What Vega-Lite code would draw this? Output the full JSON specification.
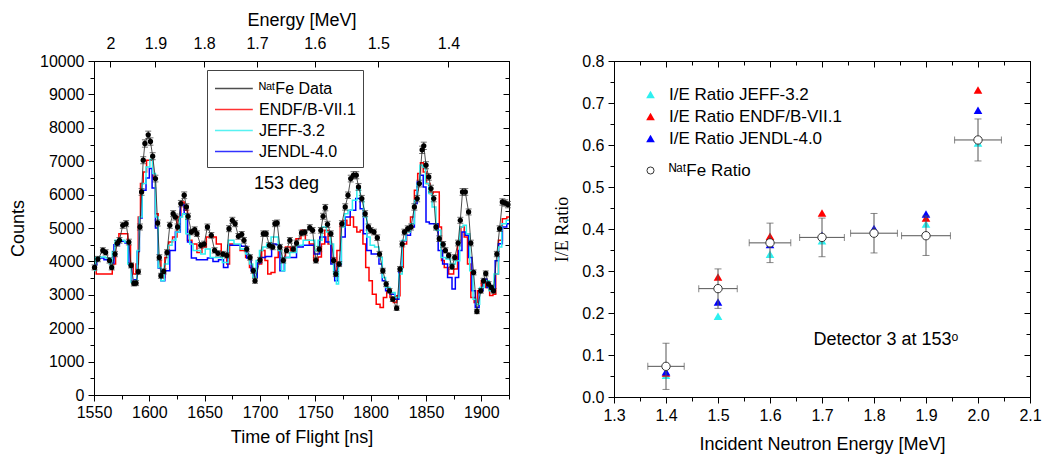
{
  "$schema": "https://vega.github.io/schema/vega-lite/v6.json",
  "background": "white",
  "padding": {"left": 9, "top": 10, "right": 5, "bottom": 5},
  "config": {
    "font": "Liberation Sans",
    "view": {"stroke": "black", "strokeWidth": 1},
    "axis": {"labelFont": "Liberation Sans", "titleFont": "Liberation Sans", "labelFontSize": 16, "titleFontSize": 18, "titleFontWeight": "normal", "labelColor": "black", "titleColor": "black", "domainColor": "black", "tickColor": "black", "grid": false, "labelFlush": false},
    "legend": {"labelFont": "Liberation Sans", "labelColor": "black", "labelLimit": 400}
  },
  "resolve": {"scale": {"color": "independent", "shape": "independent"}, "legend": {"color": "independent", "shape": "independent"}},
  "datasets": {
    "fe": [
      {"t":1550.5,"c":3820,"e":75},{"t":1553.5,"c":4070,"e":80},{"t":1558,"c":4330,"e":80},{"t":1560.5,"c":4270,"e":80},{"t":1564,"c":4030,"e":80},{"t":1566,"c":3820,"e":75},{"t":1569,"c":4220,"e":80},{"t":1571,"c":4540,"e":85},{"t":1573,"c":4630,"e":85},{"t":1576,"c":5080,"e":90},{"t":1579,"c":5130,"e":90},{"t":1581.5,"c":4580,"e":85},{"t":1583.5,"c":3880,"e":75},{"t":1586,"c":3340,"e":75},{"t":1588,"c":3350,"e":75},{"t":1590,"c":3690,"e":75},{"t":1591.5,"c":5030,"e":90},{"t":1593,"c":6080,"e":100},{"t":1594.5,"c":7030,"e":105},{"t":1596,"c":7530,"e":110},{"t":1599,"c":7790,"e":110},{"t":1601,"c":7590,"e":110},{"t":1603,"c":7150,"e":105},{"t":1605.5,"c":6480,"e":100},{"t":1607.5,"c":5150,"e":90},{"t":1609,"c":4120,"e":80},{"t":1610.5,"c":3570,"e":75},{"t":1613,"c":3700,"e":75},{"t":1616,"c":4270,"e":80},{"t":1618.5,"c":5080,"e":90},{"t":1621.5,"c":5430,"e":90},{"t":1623.5,"c":5330,"e":90},{"t":1625.5,"c":5030,"e":90},{"t":1628.5,"c":5730,"e":95},{"t":1631.5,"c":5980,"e":100},{"t":1633.5,"c":5630,"e":95},{"t":1635,"c":5350,"e":90},{"t":1638,"c":4880,"e":85},{"t":1641,"c":4950,"e":85},{"t":1643,"c":4830,"e":85},{"t":1646.5,"c":4480,"e":85},{"t":1649.5,"c":4520,"e":85},{"t":1652.5,"c":5030,"e":90},{"t":1656,"c":4780,"e":85},{"t":1659,"c":4330,"e":80},{"t":1662,"c":4240,"e":80},{"t":1666.5,"c":4220,"e":80},{"t":1670,"c":4180,"e":80},{"t":1672,"c":4980,"e":90},{"t":1675,"c":5230,"e":90},{"t":1677.5,"c":5130,"e":90},{"t":1680.5,"c":4750,"e":85},{"t":1683.5,"c":4810,"e":85},{"t":1685.5,"c":4630,"e":85},{"t":1688,"c":4370,"e":80},{"t":1691,"c":4120,"e":80},{"t":1694,"c":3720,"e":75},{"t":1695.5,"c":3420,"e":75},{"t":1700,"c":4040,"e":80},{"t":1703,"c":4830,"e":85},{"t":1705.5,"c":4830,"e":85},{"t":1708.5,"c":4480,"e":85},{"t":1711.5,"c":4430,"e":80},{"t":1713.5,"c":5130,"e":90},{"t":1715.5,"c":5150,"e":90},{"t":1718,"c":4430,"e":80},{"t":1721,"c":4030,"e":80},{"t":1724,"c":4330,"e":80},{"t":1727,"c":4630,"e":85},{"t":1730,"c":4370,"e":80},{"t":1733,"c":4550,"e":85},{"t":1737.5,"c":4850,"e":85},{"t":1740.5,"c":4870,"e":85},{"t":1745,"c":5010,"e":90},{"t":1747.5,"c":4930,"e":85},{"t":1750.5,"c":4030,"e":80},{"t":1753.5,"c":4370,"e":80},{"t":1755,"c":4930,"e":85},{"t":1757,"c":5350,"e":90},{"t":1759,"c":5610,"e":95},{"t":1761,"c":5110,"e":90},{"t":1764,"c":4830,"e":85},{"t":1766.5,"c":4030,"e":80},{"t":1768.5,"c":3620,"e":75},{"t":1771.5,"c":3920,"e":75},{"t":1774,"c":5130,"e":90},{"t":1777,"c":5630,"e":95},{"t":1779.5,"c":5980,"e":100},{"t":1782,"c":6480,"e":100},{"t":1784.5,"c":6580,"e":105},{"t":1787,"c":6580,"e":105},{"t":1789,"c":6230,"e":100},{"t":1792,"c":5880,"e":95},{"t":1795,"c":5430,"e":90},{"t":1798,"c":5030,"e":90},{"t":1800,"c":4930,"e":85},{"t":1803,"c":4880,"e":85},{"t":1806,"c":4710,"e":85},{"t":1808,"c":4220,"e":80},{"t":1811,"c":3720,"e":75},{"t":1814,"c":3320,"e":75},{"t":1817,"c":3120,"e":70},{"t":1820,"c":2870,"e":70},{"t":1823.5,"c":2600,"e":65},{"t":1826.5,"c":3770,"e":75},{"t":1828.5,"c":4520,"e":85},{"t":1830.5,"c":4880,"e":85},{"t":1833.5,"c":4980,"e":85},{"t":1836.5,"c":5030,"e":90},{"t":1839.5,"c":5630,"e":95},{"t":1842,"c":5880,"e":95},{"t":1844,"c":6330,"e":100},{"t":1846.5,"c":7340,"e":110},{"t":1848,"c":7460,"e":110},{"t":1850,"c":6880,"e":105},{"t":1852.5,"c":6530,"e":100},{"t":1854.5,"c":6180,"e":100},{"t":1857,"c":5880,"e":95},{"t":1859,"c":5030,"e":90},{"t":1862,"c":4680,"e":85},{"t":1865.5,"c":4510,"e":85},{"t":1867.5,"c":4330,"e":80},{"t":1870.5,"c":4180,"e":80},{"t":1873.5,"c":3840,"e":75},{"t":1876,"c":4120,"e":80},{"t":1879,"c":4550,"e":85},{"t":1881,"c":5230,"e":90},{"t":1883,"c":6080,"e":100},{"t":1885.5,"c":6080,"e":100},{"t":1888.5,"c":5480,"e":90},{"t":1890.5,"c":4550,"e":85},{"t":1893,"c":3670,"e":75},{"t":1896,"c":2500,"e":65},{"t":1899.5,"c":3120,"e":70},{"t":1902,"c":3420,"e":75},{"t":1904,"c":3640,"e":75},{"t":1906.5,"c":3320,"e":75},{"t":1909,"c":3220,"e":70},{"t":1911,"c":3120,"e":70},{"t":1914,"c":4220,"e":80},{"t":1916.5,"c":4980,"e":85},{"t":1919,"c":5780,"e":95},{"t":1921.5,"c":5750,"e":95},{"t":1924,"c":5700,"e":95}
    ],
    "jeff": [
      {"t":1550,"c":3730},{"t":1553,"c":4120},{"t":1558,"c":4130},{"t":1563,"c":4100},{"t":1565,"c":3920},{"t":1568,"c":4300},{"t":1570,"c":4630},{"t":1576,"c":4630},{"t":1579,"c":4580},{"t":1582,"c":3920},{"t":1585,"c":3370},{"t":1588,"c":3420},{"t":1590,"c":4330},{"t":1592,"c":5330},{"t":1595,"c":6330},{"t":1599,"c":6830},{"t":1602,"c":7050},{"t":1604,"c":6630},{"t":1607,"c":5330},{"t":1609,"c":3820},{"t":1612,"c":3420},{"t":1615,"c":3920},{"t":1619,"c":4480},{"t":1622,"c":4630},{"t":1626,"c":4880},{"t":1629,"c":5330},{"t":1631,"c":5430},{"t":1635,"c":4830},{"t":1638,"c":4520},{"t":1641,"c":4330},{"t":1645,"c":4330},{"t":1648,"c":4220},{"t":1653,"c":4370},{"t":1657,"c":4120},{"t":1663,"c":4120},{"t":1669,"c":3970},{"t":1674,"c":4630},{"t":1679,"c":4520},{"t":1685,"c":4370},{"t":1689,"c":4220},{"t":1692,"c":3920},{"t":1695,"c":3520},{"t":1698,"c":4030},{"t":1701,"c":4330},{"t":1704,"c":4430},{"t":1708,"c":4520},{"t":1712,"c":4730},{"t":1715,"c":4730},{"t":1718,"c":4330},{"t":1721,"c":3720},{"t":1724,"c":4120},{"t":1730,"c":4270},{"t":1736,"c":4480},{"t":1742,"c":4630},{"t":1748,"c":4630},{"t":1751,"c":4330},{"t":1754,"c":4630},{"t":1758,"c":5030},{"t":1762,"c":4880},{"t":1765,"c":4520},{"t":1768,"c":3620},{"t":1770,"c":3320},{"t":1772,"c":3920},{"t":1775,"c":5030},{"t":1778,"c":5430},{"t":1781,"c":5530},{"t":1786,"c":5830},{"t":1789,"c":6180},{"t":1792,"c":5830},{"t":1795,"c":5330},{"t":1798,"c":4730},{"t":1801,"c":4480},{"t":1806,"c":4430},{"t":1809,"c":4120},{"t":1812,"c":3520},{"t":1815,"c":3220},{"t":1820,"c":3070},{"t":1824,"c":2920},{"t":1827,"c":3620},{"t":1830,"c":4630},{"t":1834,"c":4880},{"t":1838,"c":5130},{"t":1841,"c":5830},{"t":1843,"c":6330},{"t":1846,"c":6880},{"t":1848,"c":6830},{"t":1851,"c":6330},{"t":1854,"c":6030},{"t":1857,"c":5630},{"t":1861,"c":4930},{"t":1866,"c":4120},{"t":1870,"c":4070},{"t":1874,"c":3920},{"t":1879,"c":4020},{"t":1882,"c":5030},{"t":1885,"c":5080},{"t":1888,"c":4830},{"t":1891,"c":3720},{"t":1894,"c":2870},{"t":1897,"c":2720},{"t":1900,"c":3220},{"t":1905,"c":3420},{"t":1909,"c":3120},{"t":1914,"c":3620},{"t":1917,"c":4430},{"t":1920,"c":5130},{"t":1925,"c":5230}
    ],
    "jendl": [
      {"t":1550,"c":3900},{"t":1555,"c":4100},{"t":1563,"c":4050},{"t":1566,"c":3950},{"t":1570,"c":4500},{"t":1576,"c":4600},{"t":1580,"c":4550},{"t":1583,"c":3900},{"t":1585,"c":3400},{"t":1588,"c":3450},{"t":1590,"c":4300},{"t":1592,"c":5300},{"t":1595,"c":6130},{"t":1599,"c":6500},{"t":1601,"c":6780},{"t":1604,"c":6200},{"t":1607,"c":5000},{"t":1609,"c":3800},{"t":1612,"c":3420},{"t":1616,"c":3720},{"t":1621,"c":4330},{"t":1626,"c":4880},{"t":1630,"c":5690},{"t":1633,"c":5430},{"t":1636,"c":4580},{"t":1640,"c":4100},{"t":1645,"c":4050},{"t":1650,"c":4050},{"t":1655,"c":4100},{"t":1660,"c":4000},{"t":1665,"c":4050},{"t":1669,"c":3820},{"t":1673,"c":4480},{"t":1680,"c":4480},{"t":1686,"c":4450},{"t":1690,"c":4100},{"t":1694,"c":3720},{"t":1696,"c":3520},{"t":1699,"c":3950},{"t":1702,"c":4120},{"t":1708,"c":4150},{"t":1713,"c":4520},{"t":1716,"c":4500},{"t":1720,"c":3720},{"t":1724,"c":4120},{"t":1730,"c":4120},{"t":1736,"c":4430},{"t":1742,"c":4480},{"t":1747,"c":4480},{"t":1751,"c":4220},{"t":1757,"c":4730},{"t":1762,"c":4580},{"t":1766,"c":3920},{"t":1769,"c":3420},{"t":1772,"c":3900},{"t":1775,"c":4730},{"t":1779,"c":5330},{"t":1784,"c":5530},{"t":1789,"c":5880},{"t":1792,"c":5580},{"t":1795,"c":4830},{"t":1798,"c":4330},{"t":1803,"c":4220},{"t":1806,"c":4220},{"t":1809,"c":3920},{"t":1812,"c":3420},{"t":1815,"c":3120},{"t":1820,"c":3020},{"t":1824,"c":2870},{"t":1827,"c":3720},{"t":1830,"c":4620},{"t":1834,"c":4780},{"t":1838,"c":5030},{"t":1841,"c":5730},{"t":1843,"c":6380},{"t":1846,"c":6580},{"t":1849,"c":6230},{"t":1851,"c":5180},{"t":1855,"c":5130},{"t":1859,"c":5130},{"t":1863,"c":4330},{"t":1867,"c":3920},{"t":1872,"c":3520},{"t":1875,"c":3170},{"t":1878,"c":3520},{"t":1881,"c":4330},{"t":1884,"c":4880},{"t":1887,"c":4780},{"t":1890,"c":4120},{"t":1893,"c":3120},{"t":1896,"c":2620},{"t":1900,"c":3120},{"t":1903,"c":3470},{"t":1907,"c":3220},{"t":1911,"c":3120},{"t":1914,"c":4020},{"t":1917,"c":4530},{"t":1921,"c":5030},{"t":1925,"c":5130}
    ],
    "endf": [
      {"t":1550,"c":3870},{"t":1554,"c":3620},{"t":1558,"c":3620},{"t":1562,"c":3620},{"t":1565,"c":3620},{"t":1568,"c":3920},{"t":1571,"c":4520},{"t":1574,"c":4830},{"t":1579,"c":4830},{"t":1582,"c":4480},{"t":1584,"c":3920},{"t":1587,"c":3620},{"t":1589,"c":3920},{"t":1591,"c":5330},{"t":1593,"c":6330},{"t":1596,"c":6680},{"t":1599,"c":7030},{"t":1602,"c":7030},{"t":1604,"c":6530},{"t":1607,"c":5430},{"t":1609,"c":4030},{"t":1612,"c":3520},{"t":1616,"c":4120},{"t":1619,"c":4580},{"t":1623,"c":4730},{"t":1627,"c":5330},{"t":1630,"c":5780},{"t":1633,"c":5530},{"t":1636,"c":4630},{"t":1641,"c":4520},{"t":1645,"c":4270},{"t":1650,"c":4430},{"t":1653,"c":4730},{"t":1658,"c":4730},{"t":1663,"c":4520},{"t":1667,"c":4220},{"t":1669,"c":4220},{"t":1671,"c":3920},{"t":1674,"c":4520},{"t":1679,"c":4500},{"t":1685,"c":4330},{"t":1689,"c":4120},{"t":1692,"c":3820},{"t":1695,"c":3520},{"t":1700,"c":3920},{"t":1703,"c":4330},{"t":1706,"c":4030},{"t":1708,"c":3620},{"t":1712,"c":3670},{"t":1715,"c":4120},{"t":1718,"c":4330},{"t":1721,"c":4030},{"t":1725,"c":4430},{"t":1730,"c":4330},{"t":1735,"c":4680},{"t":1739,"c":4930},{"t":1743,"c":4630},{"t":1746,"c":4520},{"t":1751,"c":4030},{"t":1754,"c":4130},{"t":1757,"c":4520},{"t":1760,"c":4930},{"t":1763,"c":4520},{"t":1766,"c":4120},{"t":1768,"c":3720},{"t":1771,"c":4330},{"t":1774,"c":5130},{"t":1777,"c":5230},{"t":1780,"c":5080},{"t":1783,"c":5330},{"t":1786,"c":5030},{"t":1789,"c":4880},{"t":1792,"c":4930},{"t":1794,"c":4520},{"t":1797,"c":3820},{"t":1800,"c":3420},{"t":1803,"c":3020},{"t":1807,"c":2720},{"t":1810,"c":2620},{"t":1813,"c":2920},{"t":1816,"c":3120},{"t":1819,"c":2920},{"t":1822,"c":2770},{"t":1825,"c":2970},{"t":1828,"c":3820},{"t":1831,"c":4520},{"t":1834,"c":4880},{"t":1838,"c":5330},{"t":1841,"c":6130},{"t":1844,"c":6630},{"t":1846,"c":6950},{"t":1849,"c":6680},{"t":1852,"c":6330},{"t":1855,"c":6030},{"t":1858,"c":6080},{"t":1861,"c":6080},{"t":1863,"c":5030},{"t":1865,"c":4030},{"t":1868,"c":3820},{"t":1873,"c":3620},{"t":1877,"c":3770},{"t":1880,"c":4580},{"t":1883,"c":5030},{"t":1886,"c":4730},{"t":1889,"c":3920},{"t":1892,"c":2920},{"t":1895,"c":2770},{"t":1898,"c":3120},{"t":1902,"c":3420},{"t":1906,"c":3220},{"t":1909,"c":2980},{"t":1912,"c":3020},{"t":1914,"c":3620},{"t":1917,"c":4630},{"t":1921,"c":5280},{"t":1925,"c":5330}
    ],
    "ratio": [
      {"E":1.4,"r":0.073,"ex":0.035,"ey":0.055},
      {"E":1.5,"r":0.258,"ex":0.037,"ey":0.047},
      {"E":1.6,"r":0.367,"ex":0.04,"ey":0.047},
      {"E":1.7,"r":0.38,"ex":0.043,"ey":0.046},
      {"E":1.8,"r":0.39,"ex":0.045,"ey":0.047},
      {"E":1.9,"r":0.384,"ex":0.047,"ey":0.047},
      {"E":2.0,"r":0.612,"ex":0.045,"ey":0.05}
    ],
    "tri": [
      {"E":1.4,"v":0.052,"m":"I/E Ratio JEFF-3.2"},{"E":1.5,"v":0.192,"m":"I/E Ratio JEFF-3.2"},{"E":1.6,"v":0.34,"m":"I/E Ratio JEFF-3.2"},{"E":1.7,"v":0.372,"m":"I/E Ratio JEFF-3.2"},{"E":1.8,"v":0.395,"m":"I/E Ratio JEFF-3.2"},{"E":1.9,"v":0.412,"m":"I/E Ratio JEFF-3.2"},{"E":2.0,"v":0.605,"m":"I/E Ratio JEFF-3.2"},
      {"E":1.4,"v":0.057,"m":"I/E Ratio ENDF/B-VII.1"},{"E":1.5,"v":0.286,"m":"I/E Ratio ENDF/B-VII.1"},{"E":1.6,"v":0.383,"m":"I/E Ratio ENDF/B-VII.1"},{"E":1.7,"v":0.438,"m":"I/E Ratio ENDF/B-VII.1"},{"E":1.8,"v":0.398,"m":"I/E Ratio ENDF/B-VII.1"},{"E":1.9,"v":0.426,"m":"I/E Ratio ENDF/B-VII.1"},{"E":2.0,"v":0.731,"m":"I/E Ratio ENDF/B-VII.1"},
      {"E":1.4,"v":0.06,"m":"I/E Ratio JENDL-4.0"},{"E":1.5,"v":0.226,"m":"I/E Ratio JENDL-4.0"},{"E":1.6,"v":0.363,"m":"I/E Ratio JENDL-4.0"},{"E":1.7,"v":0.385,"m":"I/E Ratio JENDL-4.0"},{"E":1.8,"v":0.401,"m":"I/E Ratio JENDL-4.0"},{"E":1.9,"v":0.436,"m":"I/E Ratio JENDL-4.0"},{"E":2.0,"v":0.683,"m":"I/E Ratio JENDL-4.0"}
    ]
  },
  "bounds": "flush",
  "spacing": 105,
  "hconcat": [
    {
      "width": 415,
      "height": 334,
      "resolve": {"axis": {"x": "independent", "y": "independent"}},
      "layer": [
        {
          "data": {"name": "endf"},
          "mark": {"type": "line", "interpolate": "step", "strokeWidth": 1.5},
          "encoding": {
            "x": {"field": "t", "type": "quantitative", "scale": {"domain": [1550, 1925], "nice": false, "zero": false},
                  "axis": {"title": "Time of Flight [ns]", "values": [1550,1575,1600,1625,1650,1675,1700,1725,1750,1775,1800,1825,1850,1875,1900,1925], "labelExpr": "datum.value % 50 === 0 && datum.value < 1925 ? datum.label : ''", "format": "d", "tickSize": {"condition": {"test": "datum.value % 50 === 0", "value": 6}, "value": 4}, "labelPadding": 3, "titlePadding": 8}},
            "y": {"field": "c", "type": "quantitative", "scale": {"domain": [0, 10000], "nice": false},
                  "axis": {"title": "Counts", "values": [0,500,1000,1500,2000,2500,3000,3500,4000,4500,5000,5500,6000,6500,7000,7500,8000,8500,9000,9500,10000], "labelExpr": "datum.value % 1000 === 0 ? datum.label : ''", "format": "d", "tickSize": {"condition": {"test": "datum.value % 1000 === 0", "value": 6}, "value": 4}, "labelPadding": 4, "titlePadding": 12}},
            "color": {"datum": "ENDF/B-VII.1", "type": "nominal",
                      "scale": {"domain": ["ᴺᵃᵗFe Data", "ENDF/B-VII.1", "JEFF-3.2", "JENDL-4.0"], "range": ["#222222", "#FF0000", "#2EF0F0", "#0000FF"]},
                      "legend": {"title": null, "orient": "none", "legendX": 113, "legendY": 9, "symbolType": "M-1,0L2.6,0", "symbolSize": 441, "symbolStrokeWidth": 1.5, "labelFontSize": 16, "strokeColor": "#444444", "fillColor": "white", "padding": 7, "rowPadding": 1, "labelOffset": 22}}
          }
        },
        {
          "data": {"name": "jendl"},
          "mark": {"type": "line", "interpolate": "step", "strokeWidth": 1.5},
          "encoding": {
            "x": {"field": "t", "type": "quantitative", "axis": null},
            "y": {"field": "c", "type": "quantitative", "axis": null},
            "color": {"datum": "JENDL-4.0", "type": "nominal"}
          }
        },
        {
          "data": {"name": "jeff"},
          "mark": {"type": "line", "interpolate": "step", "strokeWidth": 1.5},
          "encoding": {
            "x": {"field": "t", "type": "quantitative", "axis": null},
            "y": {"field": "c", "type": "quantitative", "axis": null},
            "color": {"datum": "JEFF-3.2", "type": "nominal"}
          }
        },
        {
          "data": {"name": "fe"},
          "mark": {"type": "line", "strokeWidth": 1, "opacity": 0.8},
          "encoding": {
            "x": {"field": "t", "type": "quantitative", "axis": null},
            "y": {"field": "c", "type": "quantitative", "axis": null},
            "color": {"datum": "ᴺᵃᵗFe Data", "type": "nominal"}
          }
        },
        {
          "data": {"name": "fe"},
          "mark": {"type": "errorbar", "ticks": {"size": 6}, "color": "#333333", "thickness": 1},
          "encoding": {
            "x": {"field": "t", "type": "quantitative", "axis": null},
            "y": {"field": "c", "type": "quantitative", "axis": {"orient": "right", "title": null, "labels": false, "values": [0,500,1000,1500,2000,2500,3000,3500,4000,4500,5000,5500,6000,6500,7000,7500,8000,8500,9000,9500,10000], "tickSize": {"condition": {"test": "datum.value % 1000 === 0", "value": -6}, "value": -4}}},
            "yError": {"field": "e"}
          }
        },
        {
          "data": {"name": "fe"},
          "mark": {"type": "circle", "size": 28, "color": "black", "opacity": 1},
          "encoding": {
            "x": {"field": "t", "type": "quantitative",
                  "axis": {"orient": "top", "title": "Energy [MeV]", "values": [1564.8, 1605.5, 1649.5, 1697.3, 1749.5, 1806.9, 1870.3], "labelExpr": "'' + round(10*pow(2213/datum.value,2))/10", "tickSize": -6, "labelPadding": 16, "titlePadding": 6}},
            "y": {"field": "c", "type": "quantitative", "axis": null}
          }
        },
        {
          "data": {"values": [{}]},
          "mark": {"type": "text", "fontSize": 18, "font": "Liberation Sans", "color": "black"},
          "encoding": {
            "x": {"datum": 1724, "type": "quantitative", "axis": null},
            "y": {"datum": 6330, "type": "quantitative", "axis": null},
            "text": {"value": "153 deg"}
          }
        }
      ]
    },
    {
      "width": 416,
      "height": 336,
      "resolve": {"axis": {"x": "independent", "y": "independent"}, "scale": {"color": "independent"}, "legend": {"color": "independent"}},
      "layer": [
        {
          "data": {"name": "tri"},
          "mark": {"type": "point", "filled": true, "shape": "triangle-up", "size": 75, "opacity": 1},
          "encoding": {
            "x": {"field": "E", "type": "quantitative", "scale": {"domain": [1.3, 2.1], "nice": false, "zero": false},
                  "axis": {"title": "Incident Neutron Energy [MeV]", "values": [1.3,1.35,1.4,1.45,1.5,1.55,1.6,1.65,1.7,1.75,1.8,1.85,1.9,1.95,2.0,2.05,2.1], "format": ".1f", "labelExpr": "abs(datum.value*10 - round(datum.value*10)) < 0.001 ? datum.label : ''", "tickSize": {"condition": {"test": "abs(datum.value*10 - round(datum.value*10)) < 0.001", "value": 6}, "value": 4}, "labelPadding": 4, "titlePadding": 12}},
            "y": {"field": "v", "type": "quantitative", "scale": {"domain": [0, 0.8], "nice": false},
                  "axis": {"title": "I/E Ratio", "titleFont": "Liberation Serif", "values": [0,0.05,0.1,0.15,0.2,0.25,0.3,0.35,0.4,0.45,0.5,0.55,0.6,0.65,0.7,0.75,0.8], "format": ".1f", "labelExpr": "abs(datum.value*10 - round(datum.value*10)) < 0.001 ? datum.label : ''", "tickSize": {"condition": {"test": "abs(datum.value*10 - round(datum.value*10)) < 0.001", "value": 6}, "value": 4}, "labelPadding": 4, "titlePadding": 10}},
            "color": {"field": "m", "type": "nominal",
                      "scale": {"domain": ["I/E Ratio JEFF-3.2", "I/E Ratio ENDF/B-VII.1", "I/E Ratio JENDL-4.0"], "range": ["#2EF0F0", "#FF0000", "#0000FF"]},
                      "legend": {"title": null, "orient": "none", "legendX": 28, "legendY": 25, "labelFontSize": 17, "symbolSize": 75, "rowPadding": 4, "labelOffset": 10, "padding": 0}}
          }
        },
        {
          "data": {"name": "ratio"},
          "mark": {"type": "errorbar", "ticks": {"size": 7}, "color": "#555555", "thickness": 1},
          "encoding": {
            "x": {"field": "E", "type": "quantitative", "axis": null},
            "y": {"field": "r", "type": "quantitative", "axis": {"orient": "right", "title": null, "labels": false, "values": [0,0.05,0.1,0.15,0.2,0.25,0.3,0.35,0.4,0.45,0.5,0.55,0.6,0.65,0.7,0.75,0.8], "tickSize": {"condition": {"test": "abs(datum.value*10 - round(datum.value*10)) < 0.001", "value": -6}, "value": -4}}},
            "yError": {"field": "ey"}
          }
        },
        {
          "data": {"name": "ratio"},
          "mark": {"type": "errorbar", "ticks": {"size": 7}, "color": "#555555", "thickness": 1},
          "encoding": {
            "x": {"field": "E", "type": "quantitative", "axis": {"orient": "top", "title": null, "labels": false, "values": [1.3,1.35,1.4,1.45,1.5,1.55,1.6,1.65,1.7,1.75,1.8,1.85,1.9,1.95,2.0,2.05,2.1], "tickSize": {"condition": {"test": "abs(datum.value*10 - round(datum.value*10)) < 0.001", "value": -6}, "value": -4}}},
            "xError": {"field": "ex"},
            "y": {"field": "r", "type": "quantitative", "axis": null}
          }
        },
        {
          "data": {"name": "ratio"},
          "mark": {"type": "point", "filled": false, "shape": "circle", "fill": "white", "fillOpacity": 1, "strokeWidth": 1, "size": 70, "opacity": 1},
          "encoding": {
            "x": {"field": "E", "type": "quantitative", "axis": null},
            "y": {"field": "r", "type": "quantitative", "axis": null},
            "color": {"datum": "ᴺᵃᵗFe Ratio", "type": "nominal", "scale": {"range": ["#333333"]},
                      "legend": {"title": null, "orient": "none", "legendX": 28, "legendY": 101, "labelFontSize": 17, "symbolSize": 50, "symbolStrokeWidth": 1, "labelOffset": 10, "padding": 0}}
          }
        },
        {
          "data": {"values": [{}]},
          "mark": {"type": "text", "fontSize": 18, "font": "Liberation Sans", "color": "black"},
          "encoding": {
            "x": {"datum": 1.823, "type": "quantitative", "axis": null},
            "y": {"datum": 0.136, "type": "quantitative", "axis": null},
            "text": {"value": "Detector 3 at 153ᵒ"}
          }
        }
      ]
    }
  ]
}
